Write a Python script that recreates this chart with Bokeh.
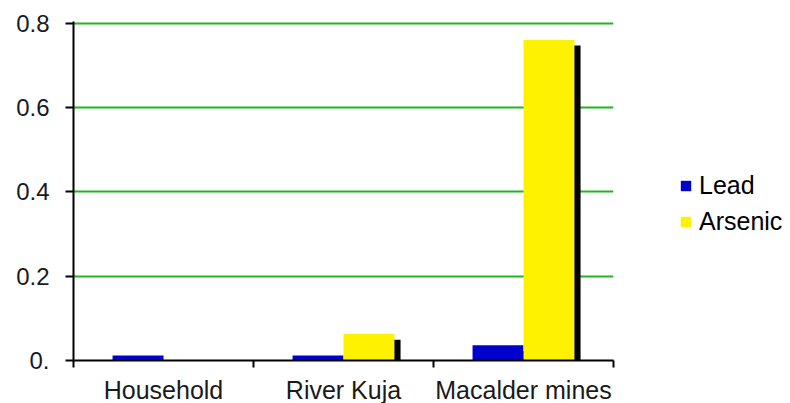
from bokeh.plotting import figure
from bokeh.models import (ColumnDataSource, FixedTicker, CustomJSTickFormatter,
                          Legend, LegendItem)
from bokeh.transform import dodge
from bokeh.embed import file_html
from bokeh.resources import INLINE

# --- data -------------------------------------------------------------
categories = ["Household", "River Kuja", "Macalder mines"]
lead = [0.012, 0.012, 0.036]
arsenic = [0.0, 0.063, 0.761]
y_ticks = [0.0, 0.2, 0.4, 0.6, 0.8]

# --- styling ------------------------------------------------------------
FONT = "Liberation Sans"
BLUE = "#0000CC"
YELLOW = "#FFF200"
GRID_GREEN = "#22B422"
BAR_W = 0.283            # bar width in category units
SHADOW_DX = 0.034        # shadow offset to the right (category units)
SHADOW_DY = 0.0135       # shadow offset downward (value units)

centers = [i + 0.5 for i in range(len(categories))]
src = ColumnDataSource(dict(
    x=centers,
    lead=lead,
    arsenic=arsenic,
    lead_sh=[max(v - SHADOW_DY, 0) for v in lead],
    arsenic_sh=[max(v - SHADOW_DY, 0) for v in arsenic],
))

# a little headroom above 0.8 so the top grid line is not clipped
p = figure(frame_width=540, frame_height=339,
           x_range=(0, len(categories)), y_range=(0, 0.8047),
           min_border_left=73, min_border_top=21,
           min_border_right=177, min_border_bottom=43,
           output_backend="svg", toolbar_location=None,
           background_fill_color="white", border_fill_color="white")
p.outline_line_color = None

# drop shadows behind the bars
p.vbar(x=dodge("x", -BAR_W / 2 + SHADOW_DX, range=p.x_range), top="lead_sh",
       width=BAR_W, source=src, fill_color="black", line_color=None)
p.vbar(x=dodge("x", BAR_W / 2 + SHADOW_DX, range=p.x_range), top="arsenic_sh",
       width=BAR_W, source=src, fill_color="black", line_color=None)

r_lead = p.vbar(x=dodge("x", -BAR_W / 2, range=p.x_range), top="lead",
                width=BAR_W, source=src, fill_color=BLUE, line_color=None)
r_ars = p.vbar(x=dodge("x", BAR_W / 2, range=p.x_range), top="arsenic",
               width=BAR_W, source=src, fill_color=YELLOW, line_color=None)

# y axis
p.yaxis.ticker = FixedTicker(ticks=y_ticks)
p.yaxis.formatter = CustomJSTickFormatter(
    code="return tick == 0 ? '0.' : tick.toFixed(1);")
p.yaxis.major_tick_out = 8
p.yaxis.major_tick_in = 0
p.yaxis.minor_tick_line_color = None
p.yaxis.major_label_standoff = 16
p.ygrid.ticker = FixedTicker(ticks=y_ticks)
p.ygrid.grid_line_color = GRID_GREEN
p.ygrid.grid_line_width = 2
p.xgrid.grid_line_color = None

# x axis: labels at category centres, tick marks at category boundaries
p.xaxis.ticker = FixedTicker(ticks=centers,
                             minor_ticks=list(range(len(categories) + 1)))
p.xaxis.formatter = CustomJSTickFormatter(
    args=dict(names=categories),
    code="const i = Math.floor(tick); return names[i] || '';")
p.xaxis.major_tick_out = 0
p.xaxis.major_tick_in = 0
p.xaxis.minor_tick_out = 7
p.xaxis.minor_tick_in = 0
p.xaxis.minor_tick_line_color = "black"
p.xaxis.minor_tick_line_width = 2
p.xaxis.major_label_standoff = 8

for ax in (p.xaxis, p.yaxis):
    ax.axis_line_color = "black"
    ax.axis_line_width = 2
    ax.major_tick_line_color = "black"
    ax.major_tick_line_width = 2
    ax.major_label_text_font = FONT
    ax.major_label_text_color = "#1a1a1a"
p.yaxis.major_label_text_font_size = "24px"
p.xaxis.major_label_text_font_size = "25px"

legend = Legend(items=[LegendItem(label="Lead", renderers=[r_lead]),
                       LegendItem(label="Arsenic", renderers=[r_ars])],
                location=(66, 124))
legend.label_text_font = FONT
legend.label_text_font_size = "25px"
legend.label_text_color = "black"
legend.glyph_width = 13
legend.glyph_height = 13
legend.label_standoff = 7
legend.spacing = 7
legend.padding = 0
legend.margin = 0
legend.border_line_color = None
legend.background_fill_alpha = 0
p.add_layout(legend, "right")

open("out.html", "w").write(file_html(p, INLINE))
